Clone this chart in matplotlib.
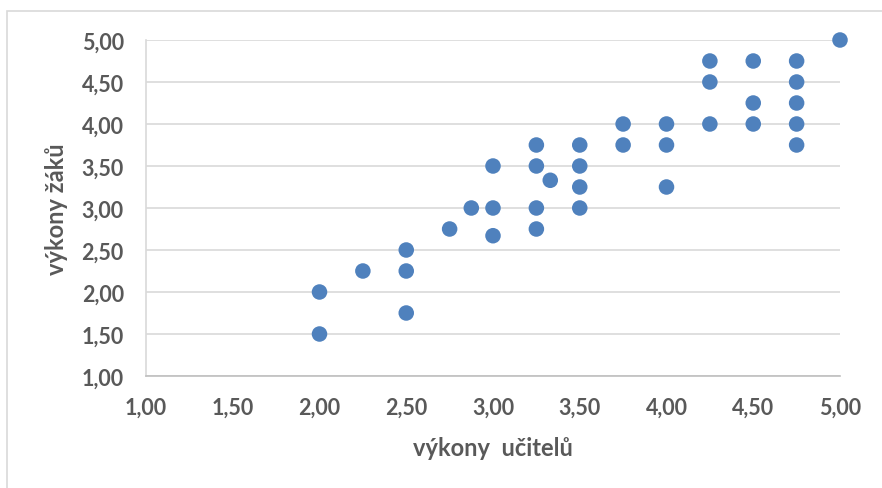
import matplotlib
matplotlib.use("Agg")
import matplotlib.pyplot as plt
from matplotlib.patches import Rectangle
from matplotlib.ticker import FuncFormatter, MultipleLocator

# data: teacher performance (x) vs. pupil performance (y)
ucitele = [5.00, 4.25, 4.50, 4.75, 4.25, 4.75, 4.50, 4.75, 4.25, 4.50, 4.75, 4.75,
           3.75, 3.75, 4.00, 4.00, 4.00, 3.50, 3.50, 3.50, 3.50,
           3.25, 3.25, 3.25, 3.25, 3.33, 3.00, 3.00, 3.00, 2.875, 2.75,
           2.50, 2.50, 2.50, 2.25, 2.00, 2.00]
zaci = [5.00, 4.75, 4.75, 4.75, 4.50, 4.50, 4.25, 4.25, 4.00, 4.00, 4.00, 3.75,
        4.00, 3.75, 4.00, 3.75, 3.25, 3.75, 3.50, 3.25, 3.00,
        3.75, 3.50, 3.00, 2.75, 3.33, 3.50, 3.00, 2.67, 3.00, 2.75,
        2.50, 2.25, 1.75, 2.25, 2.00, 1.50]
x_label = "výkony  učitelů"
y_label = "výkony žáků"

W, H = 882, 489
fig = plt.figure(figsize=(W / 100, H / 100), dpi=100)
plt.rcParams['font.family'] = ['Lato', 'DejaVu Sans']

# chart border (Excel chart area)
fig.patches.append(Rectangle((7 / W, -0.1), 1.2, 1 - 12 / H + 0.1,
                             transform=fig.transFigure, fill=False,
                             edgecolor='#D9D9D9', linewidth=1.2))

ax = fig.add_axes([146 / W, 1 - 377 / H, (840 - 146) / W, (377 - 41) / H])
ax.set_xlim(1, 5)
ax.set_ylim(1, 5)
ax.xaxis.set_major_locator(MultipleLocator(0.5))
ax.yaxis.set_major_locator(MultipleLocator(0.5))
fmt = FuncFormatter(lambda v, p: f"{v:.2f}".replace('.', ','))
ax.xaxis.set_major_formatter(fmt)
ax.yaxis.set_major_formatter(fmt)

ax.grid(axis='y', color='#D9D9D9', linewidth=1.2)
ax.set_axisbelow(True)
for s in ['top', 'right']:
    ax.spines[s].set_visible(False)
ax.spines['left'].set_color('#D9D9D9')
ax.spines['bottom'].set_color('#BFBFBF')
ax.spines['left'].set_linewidth(1.2)
ax.spines['bottom'].set_linewidth(1.2)
ax.tick_params(length=0, labelsize=15.5, labelcolor='#595959')
ax.tick_params(axis='y', pad=16)
ax.tick_params(axis='x', pad=15)
for lbl in ax.get_xticklabels() + ax.get_yticklabels():
    lbl.set_fontweight('bold')

ax.scatter(ucitele, zaci, s=125, color='#4F81BD', edgecolors='none', zorder=3, clip_on=False)

ax.set_xlabel(x_label, fontsize=17, fontweight='bold', color='#595959', labelpad=13)
ax.set_ylabel(y_label, fontsize=17, fontweight='bold', color='#595959', labelpad=10)

fig.savefig("out.png", dpi=100)
